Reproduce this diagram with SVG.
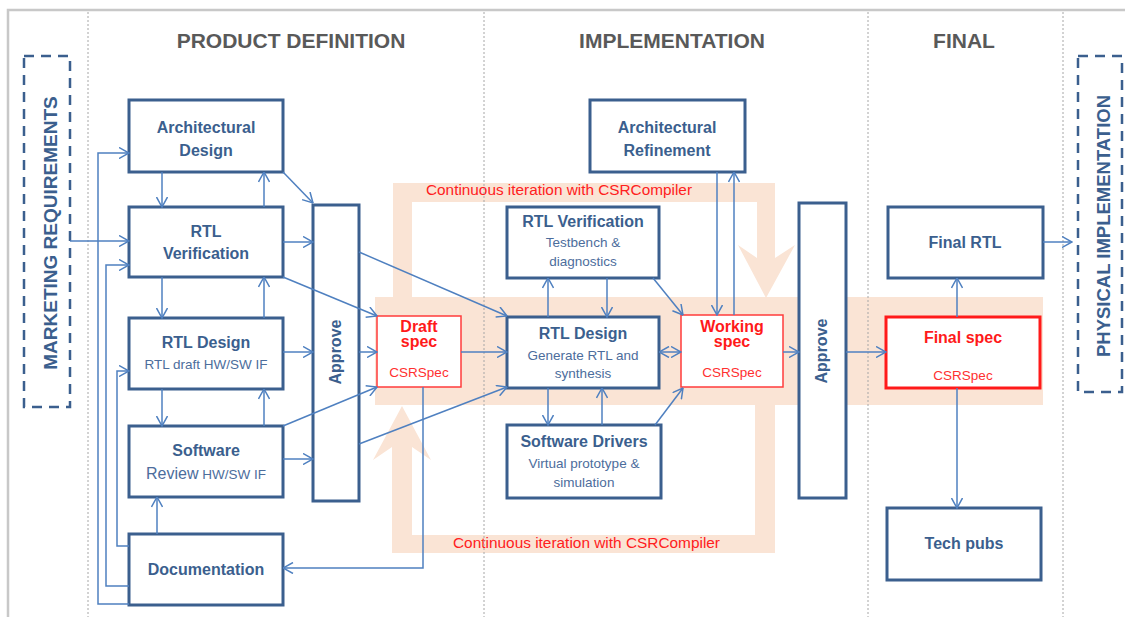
<svg xmlns="http://www.w3.org/2000/svg" width="1125" height="617" viewBox="0 0 1125 617">
<defs>
<style>
.frame{fill:none;stroke:#c8c8c8;stroke-width:2.5}
.sep{stroke:#a6a6a6;stroke-width:1;stroke-dasharray:2 2}
.hdr{font-family:"Liberation Sans",Arial,sans-serif;font-weight:bold;font-size:21px;fill:#595959;text-anchor:middle}
.box{fill:#fff;stroke:#3b5f8e;stroke-width:3}
.dash{fill:none;stroke:#3b5f8e;stroke-width:2.5;stroke-dasharray:10 7}
.side{font-family:"Liberation Sans",Arial,sans-serif;font-weight:bold;fill:#3b5f8e;text-anchor:middle}
.t{font-family:"Liberation Sans",Arial,sans-serif;font-weight:bold;font-size:16px;fill:#3b5f8e;text-anchor:middle}
.s{font-family:"Liberation Sans",Arial,sans-serif;font-size:13.5px;fill:#4c6d9c;text-anchor:middle}
.spec{fill:#fff;stroke:#ff3b3b;stroke-width:1.5}
.fspec{fill:#fff;stroke:#ff1a1a;stroke-width:3}
.rt{font-family:"Liberation Sans",Arial,sans-serif;font-weight:bold;font-size:16px;fill:#ff1a1a;text-anchor:middle}
.rs{font-family:"Liberation Sans",Arial,sans-serif;font-size:13.5px;fill:#ff3030;text-anchor:middle}
.band{fill:#fae4d5}
.lt{font-family:"Liberation Sans",Arial,sans-serif;font-size:14px;fill:#ff2020}
.c{fill:none;stroke:#4f80c0;stroke-width:1.5;marker-end:url(#ah)}
.c2{marker-start:url(#ah)}
</style>
<marker id="ah" viewBox="0 0 11 12" refX="10.5" refY="6" markerWidth="11" markerHeight="12" markerUnits="userSpaceOnUse" orient="auto-start-reverse">
<path d="M0.5,0.5 L10.5,6 L0.5,11.5" fill="none" stroke="#4f80c0" stroke-width="1.5"/>
</marker>
</defs>

<path class="frame" d="M8,617 V10 H1125"/>

<g id="iteration-band">
<rect class="band" x="375" y="297" width="668" height="108"/>
<path class="band" d="M393,297 V183 H775 V258 L795,245 L766,298 L738,245 L757,258 V202 H412 V297 Z"/>
<path class="band" d="M775,405 V553 H392 V447 L373,460 L402,406 L431,460 L412,447 V535 H755 V405 Z"/>
<text class="lt" x="426" y="195" textLength="266" lengthAdjust="spacingAndGlyphs">Continuous iteration with CSRCompiler</text>
<text class="lt" x="453" y="548" textLength="267" lengthAdjust="spacingAndGlyphs">Continuous iteration with CSRCompiler</text>
</g>

<g id="separators">
<line class="sep" x1="88" y1="12" x2="88" y2="617"/>
<line class="sep" x1="484" y1="12" x2="484" y2="617"/>
<line class="sep" x1="868" y1="12" x2="868" y2="617"/>
<line class="sep" x1="1063" y1="12" x2="1063" y2="617"/>
</g>

<g id="headers">
<text class="hdr" x="291" y="48">PRODUCT DEFINITION</text>
<text class="hdr" x="672" y="48">IMPLEMENTATION</text>
<text class="hdr" x="964" y="48">FINAL</text>
</g>

<g id="marketing">
<rect class="dash" x="24" y="56" width="46" height="351"/>
<text class="side" font-size="19" transform="translate(57,233) rotate(-90)">MARKETING REQUIREMENTS</text>
</g>
<g id="physical">
<rect class="dash" x="1078" y="56" width="44" height="336"/>
<text class="side" font-size="18.5" transform="translate(1110,226) rotate(-90)">PHYSICAL IMPLEMENTATION</text>
</g>

<g id="arch-design">
<rect class="box" x="129" y="100" width="154" height="72"/>
<text class="t" x="206" y="133">Architectural</text>
<text class="t" x="206" y="156">Design</text>
</g>
<g id="rtl-verif-pd">
<rect class="box" x="129" y="207" width="154" height="70"/>
<text class="t" x="206" y="237">RTL</text>
<text class="t" x="206" y="259">Verification</text>
</g>
<g id="rtl-design-pd">
<rect class="box" x="129" y="318" width="154" height="71"/>
<text class="t" x="206" y="348">RTL Design</text>
<text class="s" x="206" y="369">RTL draft HW/SW IF</text>
</g>
<g id="software-pd">
<rect class="box" x="129" y="426" width="154" height="71"/>
<text class="t" x="206" y="456">Software</text>
<text class="s" x="206" y="479"><tspan font-size="16">Review</tspan> HW/SW IF</text>
</g>
<g id="documentation">
<rect class="box" x="129" y="534" width="154" height="71"/>
<text class="t" x="206" y="575">Documentation</text>
</g>
<g id="approve-pd">
<rect class="box" x="313" y="205" width="46" height="296"/>
<text class="t" transform="translate(341,352) rotate(-90)">Approve</text>
</g>
<g id="draft-spec">
<rect class="spec" x="377" y="316" width="84" height="71"/>
<text class="rt" x="419" y="332">Draft</text>
<text class="rt" x="419" y="347">spec</text>
<text class="rs" x="419" y="377">CSRSpec</text>
</g>

<g id="arch-refinement">
<rect class="box" x="590" y="100" width="155" height="72"/>
<text class="t" x="667" y="133">Architectural</text>
<text class="t" x="667" y="156">Refinement</text>
</g>
<g id="rtl-verif-impl">
<rect class="box" x="507" y="207" width="152" height="71"/>
<text class="t" x="583" y="227">RTL Verification</text>
<text class="s" x="583" y="247">Testbench  &amp;</text>
<text class="s" x="583" y="266">diagnostics</text>
</g>
<g id="rtl-design-impl">
<rect class="box" x="507" y="317" width="152" height="71"/>
<text class="t" x="583" y="339">RTL Design</text>
<text class="s" x="583" y="360">Generate RTL and</text>
<text class="s" x="583" y="378">synthesis</text>
</g>
<g id="software-drivers">
<rect class="box" x="507" y="425" width="154" height="73"/>
<text class="t" x="584" y="447">Software Drivers</text>
<text class="s" x="584" y="468">Virtual prototype &amp;</text>
<text class="s" x="584" y="487">simulation</text>
</g>
<g id="working-spec">
<rect class="spec" x="681" y="315" width="102" height="72"/>
<text class="rt" x="732" y="332">Working</text>
<text class="rt" x="732" y="347">spec</text>
<text class="rs" x="732" y="377">CSRSpec</text>
</g>
<g id="approve-impl">
<rect class="box" x="799" y="203" width="47" height="295"/>
<text class="t" transform="translate(827,351) rotate(-90)">Approve</text>
</g>

<g id="final-rtl">
<rect class="box" x="888" y="207" width="155" height="71"/>
<text class="t" x="965" y="248">Final RTL</text>
</g>
<g id="final-spec">
<rect class="fspec" x="886" y="317" width="154" height="71"/>
<text class="rt" x="963" y="343">Final spec</text>
<text class="rs" x="963" y="380">CSRSpec</text>
</g>
<g id="tech-pubs">
<rect class="box" x="887" y="508" width="154" height="72"/>
<text class="t" x="964" y="549">Tech pubs</text>
</g>

<g id="connectors">
<path class="c" d="M70,241 H129"/>
<path class="c" d="M129,604 H98 V153 H129"/>
<path class="c" d="M129,586 H106 V265 H129"/>
<path class="c" d="M129,546 H117 V371 H129"/>
<path class="c" d="M157,534 V497"/>
<path class="c" d="M162,172 V207"/>
<path class="c" d="M264,207 V172"/>
<path class="c" d="M162,277 V318"/>
<path class="c" d="M264,318 V277"/>
<path class="c" d="M162,389 V426"/>
<path class="c" d="M264,426 V389"/>
<path class="c" d="M283,172 L313,203"/>
<path class="c" d="M283,242 H313"/>
<path class="c" d="M283,352 H313"/>
<path class="c" d="M283,459 H313"/>
<path class="c" d="M283,277 L377,316"/>
<path class="c" d="M283,426 L377,387"/>
<path class="c" d="M359,352 H377"/>
<path class="c" d="M359,252 L507,316"/>
<path class="c" d="M359,444 L507,387"/>
<path class="c" d="M461,352 H507"/>
<path class="c" d="M423,387 V568 H283"/>
<path class="c" d="M548,317 V278"/>
<path class="c" d="M607,278 V317"/>
<path class="c" d="M653,278 L683,315"/>
<path class="c c2" d="M659,352 H681"/>
<path class="c" d="M717,172 V315"/>
<path class="c" d="M734,315 V172"/>
<path class="c" d="M783,352 H799"/>
<path class="c" d="M548,388 V425"/>
<path class="c" d="M602,425 V388"/>
<path class="c" d="M655,425 L683,388"/>
<path class="c" d="M846,352 H886"/>
<path class="c" d="M957,317 V278"/>
<path class="c" d="M957,388 V508"/>
<path class="c" d="M1043,242 H1072"/>
</g>
</svg>
